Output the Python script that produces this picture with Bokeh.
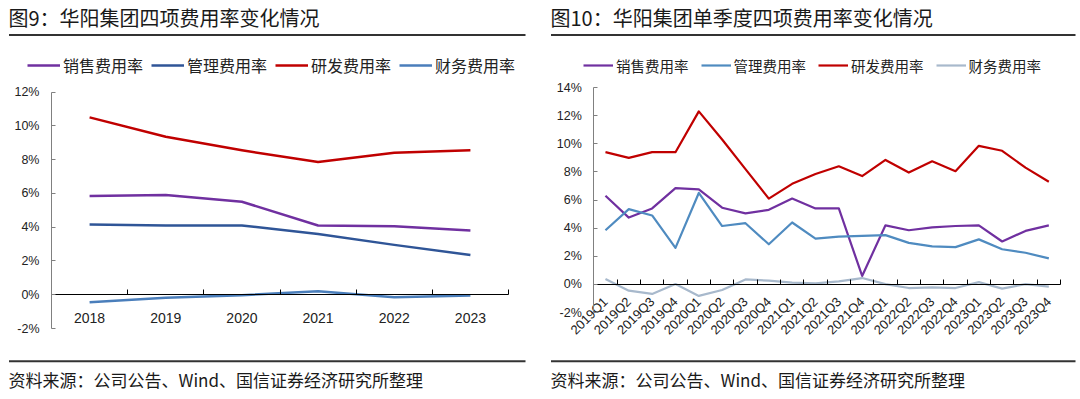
import math
from bokeh.plotting import figure
from bokeh.models import (FixedTicker, PrintfTickFormatter, Label, BoxAnnotation,
                          Legend, LegendItem, Range1d)
from bokeh.layouts import row
from bokeh.embed import file_html
from bokeh.resources import INLINE

# ---------------- data ----------------
series_names = ["销售费用率", "管理费用率", "研发费用率", "财务费用率"]

years = ["2018", "2019", "2020", "2021", "2022", "2023"]
sales_y = [5.85, 5.9, 5.5, 4.1, 4.05, 3.8]
admin_y = [4.15, 4.1, 4.1, 3.6, 2.95, 2.35]
rd_y = [10.5, 9.35, 8.55, 7.85, 8.4, 8.55]
fin_y = [-0.45, -0.18, -0.03, 0.2, -0.15, -0.05]

quarters = ["2019Q1", "2019Q2", "2019Q3", "2019Q4", "2020Q1", "2020Q2", "2020Q3", "2020Q4",
            "2021Q1", "2021Q2", "2021Q3", "2021Q4", "2022Q1", "2022Q2", "2022Q3", "2022Q4",
            "2023Q1", "2023Q2", "2023Q3", "2023Q4"]
sales_q = [6.3, 4.75, 5.4, 6.85, 6.75, 5.45, 5.05, 5.3, 6.1, 5.4,
           5.4, 0.6, 4.2, 3.85, 4.05, 4.15, 4.2, 3.05, 3.8, 4.2]
admin_q = [3.85, 5.35, 4.9, 2.6, 6.5, 4.15, 4.35, 2.85, 4.4, 3.25,
           3.4, 3.45, 3.5, 2.95, 2.7, 2.65, 3.2, 2.5, 2.25, 1.85]
rd_q = [9.4, 9.0, 9.4, 9.4, 12.3, 10.3, 8.2, 6.1, 7.15, 7.85,
        8.4, 7.7, 8.85, 7.95, 8.75, 8.05, 9.85, 9.5, 8.3, 7.3]
fin_q = [0.38, -0.45, -0.68, 0.02, -0.82, -0.4, 0.35, 0.26, 0.12, 0.07,
         0.21, 0.45, 0.02, -0.26, -0.21, -0.26, 0.16, -0.3, 0.02, -0.16]

title_left = "图9：华阳集团四项费用率变化情况"
title_right = "图10：华阳集团单季度四项费用率变化情况"
source_text = "资料来源：公司公告、Wind、国信证券经济研究所整理"

CJK = "Noto Sans CJK SC"
NUM = "Liberation Sans, Arial, sans-serif"

H = 398


def panel(W, title, cats, series, colors, lw, y_lo, y_hi, geom, leg, rotate,
          xtick_fs, ytick_fs, leg_fs, title_x, rule_x1):
    # geom: plot-area pixel box inside the figure (left, right, top, bottom)
    pl, pr, pt, pb = geom
    n = len(cats)
    xpp = n / (pr - pl)
    ypp = (y_hi - y_lo) / (pb - pt)
    xr = Range1d(-0.5 - pl * xpp, n - 0.5 + (W - pr) * xpp)
    yr = Range1d(y_lo - (H - pb) * ypp, y_hi + pt * ypp)
    p = figure(width=W, height=H, min_border=0, output_backend="svg",
               toolbar_location=None, x_range=xr, y_range=yr)
    p.grid.visible = False
    p.outline_line_color = None
    p.background_fill_color = "white"
    p.border_fill_color = "white"

    def sy(fy):
        return H - fy

    xs = list(range(n))
    items = []
    for name, vals, col in zip(series_names, series, colors):
        r = p.line(x=xs, y=vals, line_color=col, line_width=lw, line_join="round")
        items.append(LegendItem(label=name, renderers=[r]))

    xa = p.xaxis[0]
    xa.ticker = FixedTicker(ticks=xs, minor_ticks=[i - 0.5 for i in range(n + 1)])
    xa.major_label_overrides = {i: c for i, c in enumerate(cats)}
    xa.fixed_location = 0
    xa.bounds = (-0.5, n - 0.5)
    xa.major_tick_line_color = None
    xa.minor_tick_in = 5
    xa.minor_tick_out = 0
    xa.minor_tick_line_color = "black"
    xa.axis_line_color = "black"
    xa.axis_line_width = 1.2
    xa.major_label_text_font = NUM
    xa.major_label_text_font_size = xtick_fs
    xa.major_label_text_color = "#222222"
    if rotate:
        xa.major_label_orientation = math.pi / 4
        xa.major_label_standoff = 9
    else:
        xa.major_label_standoff = 12

    ya = p.yaxis[0]
    ya.ticker = FixedTicker(ticks=list(range(y_lo, y_hi + 1, 2)))
    ya.formatter = PrintfTickFormatter(format="%d%%")
    ya.fixed_location = -0.5
    ya.bounds = (y_lo, y_hi)
    ya.major_tick_in = 4
    ya.major_tick_out = 0
    ya.major_tick_line_color = "#808080"
    ya.minor_tick_line_color = None
    ya.axis_line_color = "#808080"
    ya.major_label_text_font = NUM
    ya.major_label_text_font_size = ytick_fs
    ya.major_label_text_color = "#222222"
    ya.major_label_standoff = 12

    lx, lyc, gw, sp = leg
    legend = Legend(items=items, orientation="horizontal", location=(lx, sy(lyc + 10)),
                    padding=0, margin=0, spacing=sp, glyph_width=gw, glyph_height=20,
                    label_standoff=3, label_height=20,
                    label_text_font=CJK, label_text_font_size=leg_fs,
                    label_text_color="#222222", border_line_color=None,
                    background_fill_alpha=0)
    p.add_layout(legend)

    p.add_layout(Label(x=title_x, y=sy(17), x_units="screen", y_units="screen",
                       text=title, text_font=CJK, text_font_size="20px",
                       text_color="#1a1a1a", text_baseline="middle", text_align="left"))
    for (t, b) in [(33.5, 35.5), (359.7, 361.7)]:
        p.add_layout(BoxAnnotation(left=title_x + 0.5, right=rule_x1, top=sy(t), bottom=sy(b),
                                   left_units="screen", right_units="screen",
                                   top_units="screen", bottom_units="screen",
                                   fill_color="#333333", fill_alpha=1, line_color=None))
    p.add_layout(Label(x=title_x, y=sy(378.5), x_units="screen", y_units="screen",
                       text=source_text, text_font=CJK, text_font_size="17px",
                       text_color="#1a1a1a", text_baseline="middle", text_align="left"))
    return p


left = panel(540, title_left, years, [sales_y, admin_y, rd_y, fin_y],
             ["#7030A0", "#2F5597", "#C00000", "#4A7EBB"], 2.5, -2, 12,
             (51, 508, 91.5, 328), (27, 67, 33, 8), False,
             "14px", "12.5px", "16px", 8, 525)
right = panel(538, title_right, quarters, [sales_q, admin_q, rd_q, fin_q],
              ["#7030A0", "#4F8BC0", "#C00000", "#A8B9CC"], 2.2, -2, 14,
              (53.3, 520, 87, 312), (43, 65.5, 30, 12), True,
              "13px", "12.5px", "14.5px", 10, 535)

layout = row(left, right)
open("out.html", "w").write(file_html(layout, INLINE))
